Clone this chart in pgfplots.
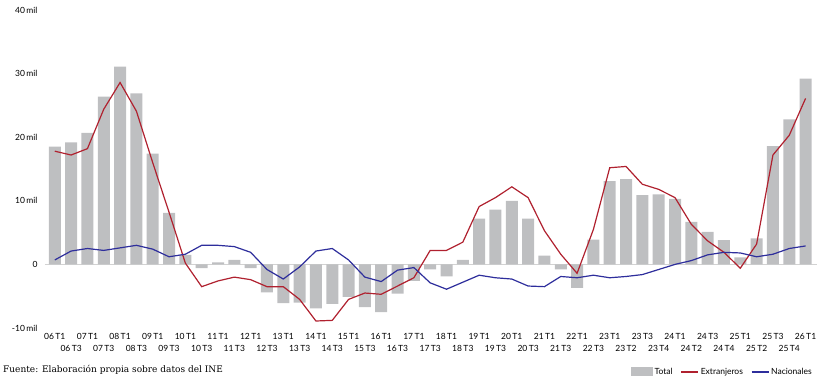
\documentclass[border=0pt]{standalone}
\usepackage{fontspec}
\setmainfont{Lato}
\newfontfamily\footfont{DejaVu Serif}
\usepackage{pgfplots}
\usepackage{pgfplotstable}
\pgfplotsset{compat=1.18}

\definecolor{bargray}{HTML}{BEBFC1}
\definecolor{extred}{HTML}{B0212F}
\definecolor{nacblue}{HTML}{2E2E9C}
\definecolor{zerogray}{HTML}{D2D2D2}

% valores en miles
\pgfplotstableread{
idx total ext nac
0 18.5 17.8 0.7
1 19.2 17.2 2.1
2 20.7 18.2 2.5
3 26.4 24.4 2.2
4 31.1 28.6 2.6
5 26.9 24.1 3.0
6 17.4 16.0 2.4
7 8.1 8.2 1.2
8 1.5 0.2 1.6
9 -0.6 -3.5 3.0
10 0.3 -2.6 3.0
11 0.7 -2.0 2.8
12 -0.6 -2.4 1.9
13 -4.4 -3.5 -0.8
14 -6.1 -3.5 -2.3
15 -6.0 -5.5 -0.4
16 -6.9 -8.9 2.1
17 -6.2 -8.8 2.5
18 -5.1 -5.5 0.7
19 -6.7 -4.5 -2.0
20 -7.5 -4.7 -2.7
21 -4.6 -3.4 -0.9
22 -2.6 -2.1 -0.5
23 -0.8 2.2 -2.9
24 -1.9 2.2 -3.9
25 0.7 3.5 -2.8
26 7.2 9.1 -1.7
27 8.6 10.5 -2.1
28 10.0 12.2 -2.3
29 7.2 10.5 -3.4
30 1.4 5.3 -3.5
31 -0.8 1.6 -1.9
32 -3.7 -1.4 -2.1
33 3.9 5.5 -1.7
34 13.1 15.2 -2.1
35 13.4 15.4 -1.9
36 10.9 12.6 -1.6
37 11.0 11.8 -0.8
38 10.3 10.5 0.0
39 6.7 6.3 0.6
40 5.1 3.7 1.5
41 3.8 1.9 1.9
42 1.1 -0.6 1.8
43 4.1 3.2 1.2
44 18.6 17.2 1.6
45 22.8 20.3 2.5
46 29.2 26.1 2.9
}\datatable

\begin{document}
\begin{tikzpicture}
\begin{axis}[
  scale only axis,
  width=772pt, height=318pt,
  xmin=-0.6, xmax=46.7,
  ymin=-10, ymax=40,
  axis line style={draw=none},
  major tick length=0pt,
  font=\fontsize{8.5}{10}\selectfont,
  ytick={-10,0,10,20,30,40},
  yticklabels={-10\,mil,0,10\,mil,20\,mil,30\,mil,40\,mil},
  yticklabel style={xshift=-4pt},
  xtick={0,2,...,46},
  xticklabels={06\,T1,07\,T1,08\,T1,09\,T1,10\,T1,11\,T1,12\,T1,13\,T1,14\,T1,15\,T1,16\,T1,17\,T1,18\,T1,19\,T1,20\,T1,21\,T1,22\,T1,23\,T1,23\,T3,24\,T1,24\,T3,25\,T1,25\,T3,26\,T1},
  extra x ticks={1,3,...,45},
  extra x tick labels={06\,T3,07\,T3,08\,T3,09\,T3,10\,T3,11\,T3,12\,T3,13\,T3,14\,T3,15\,T3,16\,T3,17\,T3,18\,T3,19\,T3,20\,T3,21\,T3,22\,T3,23\,T2,23\,T4,24\,T2,24\,T4,25\,T2,25\,T4},
  extra x tick style={xticklabel style={yshift=-12pt}},
  xticklabel style={yshift=-2pt},
  legend columns=3,
  legend style={at={(rel axis cs:1,0)}, anchor=north east, yshift=-36pt,
    draw=none, fill=none, font=\fontsize{8.5}{10}\selectfont,
    /tikz/every even column/.append style={column sep=6pt}},
  legend cell align=left,
]
% linea del cero
\addplot[zerogray, line width=1.4pt, forget plot] coordinates {(-0.6,0) (46.7,0)};
\addplot[ybar, bar width=12pt, fill=bargray, draw=none,
  legend image code/.code={\fill[bargray] (0pt,-4pt) rectangle (22pt,5pt);}]
  table[x=idx, y=total] {\datatable};
\addlegendentry{Total}
\addplot[sharp plot, extred, line width=1.2pt, no marks,
  legend image code/.code={\draw[extred, line width=1.2pt] (0pt,0pt) -- (17pt,0pt);}]
  table[x=idx, y=ext] {\datatable};
\addlegendentry{Extranjeros}
\addplot[sharp plot, nacblue, line width=1.2pt, no marks,
  legend image code/.code={\draw[nacblue, line width=1.2pt] (0pt,0pt) -- (17pt,0pt);}]
  table[x=idx, y=nac] {\datatable};
\addlegendentry{Nacionales}
\end{axis}
\node[anchor=base west, inner sep=0pt, font=\footfont\fontsize{9}{11}\selectfont] at (-42pt,-44pt) {Fuente: Elaboración propia sobre datos del INE};
\pgfresetboundingbox
\useasboundingbox (-45pt,-53pt) rectangle (772pt,328pt);
\end{tikzpicture}
\end{document}
